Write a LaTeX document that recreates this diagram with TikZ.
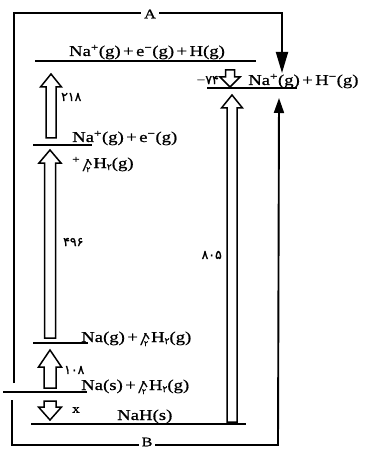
\documentclass[tikz,border=0pt]{standalone}
\usepackage{fontspec}
\setmainfont{Liberation Serif}
\newfontfamily\chemfont[FakeStretch=1.25,FakeBold=0.8]{Liberation Serif}
\newfontfamily\fafont[Script=Arabic,FakeBold=1.2]{DejaVu Sans}
\usetikzlibrary{arrows.meta}
\newcommand\myhalf{\rlap{\raisebox{1.5pt}{\kern2.5pt\rotatebox{28}{\fafont\fontsize{11}{11}\selectfont ۱}}}\raisebox{-3pt}{\chemfont\fontsize{18}{18}\selectfont /}\kern-2.5pt\raisebox{-4pt}{\fafont\fontsize{7.5}{7.5}\selectfont ۲}\hspace{3pt}}
\newcommand\myHtwo{H\raisebox{-2pt}{\fafont\fontsize{9}{9}\selectfont ۲}}
\newcommand\pl{\hspace{0.16em}+\hspace{0.16em}}
\newcommand\blockarrow[5]{% x, tail y, head-base y, tip y, shaft half width
  \draw[hollow] ({#1-#5},#2) -- ({#1+#5},#2) -- ({#1+#5},#3) -- ({#1+#5+5.5},#3) -- (#1,#4) -- ({#1-#5-5.5},#3) -- ({#1-#5},#3) -- cycle;}
\tikzset{
  chem/.style={font=\chemfont\fontsize{15}{17}\selectfont, inner sep=0pt},
  num/.style={font=\fafont\fontsize{12.5}{14}\selectfont, inner sep=0pt},
  lvl/.style={line width=1.7pt},
  hollow/.style={line width=1.5pt, fill=white, line join=miter},
  bracket/.style={line width=1.9pt},
  letter/.style={fill=white, inner xsep=3pt, inner ysep=0.5pt, font=\chemfont\fontsize{13}{14}\selectfont},
}
\begin{document}
\begin{tikzpicture}[x=1pt,y=-1pt]
\useasboundingbox (0,0) rectangle (369,449);

% level lines
\coordinate (L1a) at (35,61);  \coordinate (L1b) at (256,61);
\coordinate (L2a) at (207,88); \coordinate (L2b) at (297,88);
\coordinate (L3a) at (33,145); \coordinate (L3b) at (92,145);
\coordinate (L4a) at (33,343); \coordinate (L4b) at (88,343);
\coordinate (L5a) at (3,392);  \coordinate (L5b) at (87,392);
\coordinate (L6a) at (31,424); \coordinate (L6b) at (246,424);
\foreach \a/\b in {L1a/L1b,L2a/L2b,L3a/L3b,L4a/L4b,L5a/L5b,L6a/L6b}
  \draw[lvl] (\a) -- (\b);

% species
\node[chem, anchor=base] (t1) at (147,56) {Na\textsuperscript{+}(g)\pl e\textsuperscript{−}(g)\pl H(g)};
\node[chem, anchor=base west] (t2) at (248,85) {Na\textsuperscript{+}(g)\pl H\textsuperscript{−}(g)};
\node[chem, anchor=base west] (t3) at (72,142) {Na\textsuperscript{+}(g)\pl e\textsuperscript{−}(g)};
\node[chem, anchor=base west] (t3b) at (72,168) {\textsuperscript{+}\,\myhalf\myHtwo(g)};
\node[chem, anchor=base west] (t4) at (81,342) {Na(g)\pl\myhalf\myHtwo(g)};
\node[chem, anchor=base west] (t5) at (81,390) {Na(s)\pl\myhalf\myHtwo(g)};
\node[chem, anchor=base west] (t6) at (117,420) {NaH(s)};

% hollow arrows
\blockarrow{51}{138}{87}{74}{5}
\blockarrow{50}{338}{163}{150}{5.5}
\blockarrow{50}{388}{367}{350}{6}
\blockarrow{50}{401}{407}{420}{6}
\blockarrow{230}{70}{77}{87}{4.5}
\blockarrow{232}{422}{108}{95}{5}

% values
\node[num, anchor=west] (v1) at (61,97) {۲۱۸};
\node[num, anchor=west] (v2) at (63,242) {۴۹۶};
\node[num, anchor=west] (v3) at (64,370) {۱۰۸};
\node[chem, anchor=west, font=\chemfont\fontsize{12}{13}\selectfont] (v4) at (72,410) {x};
\node[num, anchor=east] (v5) at (219,80) {{\chemfont −}۷۴};
\node[num, anchor=east] (v6) at (222,255) {۸۰۵};

% bracket A
\coordinate (Astart) at (14,383);
\coordinate (Aend) at (282,73);
\draw[bracket, -{Triangle[length=21pt,width=12pt]}] (Astart) -- (14,13) -- (282,13) -- (Aend);
\node[letter] (A) at (150,14) {A};

% bracket B
\coordinate (Bstart) at (12,400);
\coordinate (Bend) at (279,98);
\draw[bracket, -{Triangle[length=15pt,width=10pt]}] (Bstart) -- (12,445) -- (278,445) -- (Bend);
\node[letter] (B) at (147,442) {B};
\end{tikzpicture}
\end{document}
